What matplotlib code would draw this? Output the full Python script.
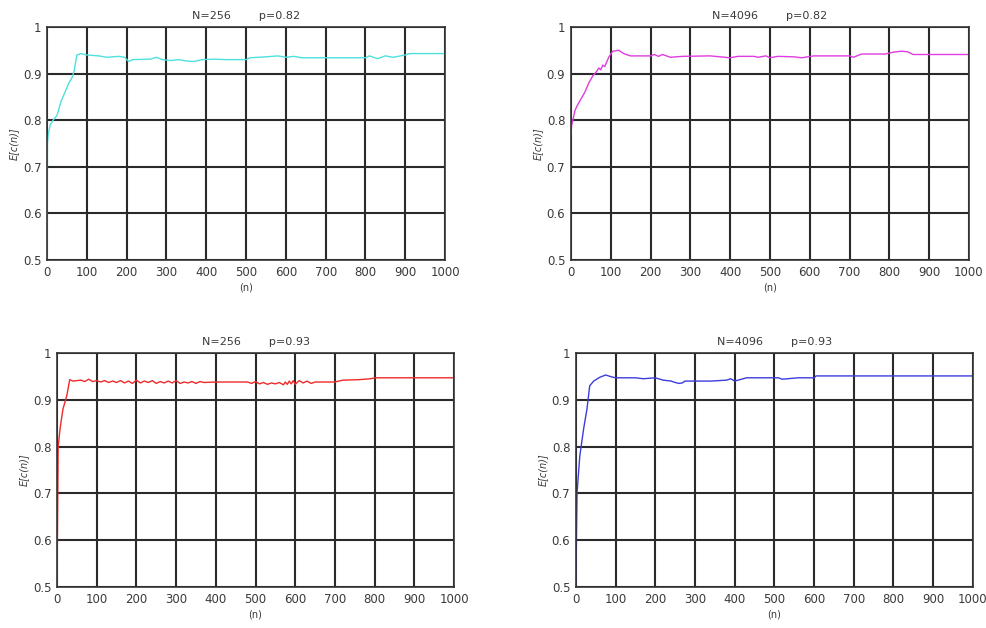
import matplotlib
matplotlib.use('Agg')
import matplotlib.pyplot as plt

# N=256, p=0.82 (cyan)
n1 = [0, 1, 3, 8, 15, 25, 35, 45, 55, 62, 68, 75, 85, 100, 130, 150, 180, 195, 205, 215, 260,
      275, 290, 310, 330, 350, 370, 390, 420, 450, 500, 510, 550, 580, 600, 620, 640, 700, 800,
      810, 830, 850, 870, 900, 910, 1000]
v1 = [0.50, 0.75, 0.77, 0.79, 0.80, 0.81, 0.84, 0.86, 0.88, 0.89, 0.905, 0.94, 0.943, 0.940,
      0.938, 0.935, 0.937, 0.935, 0.926, 0.930, 0.931, 0.935, 0.930, 0.928, 0.930, 0.927, 0.926,
      0.930, 0.931, 0.930, 0.930, 0.934, 0.936, 0.938, 0.935, 0.937, 0.934, 0.934, 0.934, 0.938,
      0.932, 0.938, 0.935, 0.940, 0.943, 0.943]

# N=4096, p=0.82 (magenta)
n2 = [0, 2, 5, 10, 15, 25, 35, 45, 55, 60, 65, 70, 75, 80, 85, 90, 95, 105, 120, 135, 150, 200,
      210, 220, 230, 250, 280, 350, 400, 420, 460, 470, 490, 500, 520, 560, 580, 610, 700, 710,
      730, 790, 810, 830, 845, 860, 1000]
v2 = [0.77, 0.79, 0.80, 0.82, 0.83, 0.845, 0.86, 0.88, 0.895, 0.90, 0.905, 0.912, 0.908, 0.918,
      0.915, 0.925, 0.935, 0.948, 0.950, 0.942, 0.938, 0.938, 0.941, 0.937, 0.941, 0.935, 0.937,
      0.938, 0.934, 0.937, 0.937, 0.935, 0.938, 0.934, 0.937, 0.936, 0.934, 0.938, 0.938, 0.935,
      0.942, 0.942, 0.946, 0.948, 0.947, 0.941, 0.941]

# N=256, p=0.93 (red)
n3 = [0, 3, 8, 15, 25, 32, 40, 50, 60, 70, 80, 90, 100, 110, 120, 130, 140, 150, 160, 170, 180,
      190, 200, 210, 220, 230, 240, 250, 260, 270, 280, 290, 300, 310, 320, 330, 340, 350, 360,
      370, 400, 450, 480, 490, 500, 510, 520, 530, 540, 550, 560, 570, 575, 580, 585, 590, 595,
      600, 610, 620, 630, 640, 650, 700, 720, 760, 790, 800, 1000]
v3 = [0.50, 0.80, 0.84, 0.88, 0.91, 0.943, 0.940, 0.941, 0.942, 0.939, 0.944, 0.939, 0.941,
      0.938, 0.941, 0.937, 0.940, 0.937, 0.941, 0.936, 0.940, 0.935, 0.942, 0.936, 0.940, 0.937,
      0.941, 0.935, 0.939, 0.936, 0.940, 0.936, 0.941, 0.935, 0.938, 0.936, 0.939, 0.935, 0.939,
      0.937, 0.938, 0.938, 0.938, 0.935, 0.939, 0.934, 0.937, 0.933, 0.936, 0.934, 0.937, 0.932,
      0.938, 0.933, 0.940, 0.934, 0.941, 0.933, 0.941, 0.936, 0.940, 0.935, 0.938, 0.938, 0.942,
      0.943, 0.945, 0.947, 0.947]

# N=4096, p=0.93 (blue)
n4 = [0, 3, 10, 20, 28, 35, 45, 60, 75, 90, 100, 150, 170, 200, 220, 240, 250, 260, 268, 275,
      340, 380, 390, 400, 430, 510, 520, 560, 600, 605, 1000]
v4 = [0.50, 0.70, 0.78, 0.84, 0.88, 0.93, 0.94, 0.948, 0.953, 0.949, 0.947, 0.947, 0.945,
      0.947, 0.942, 0.940, 0.937, 0.935, 0.936, 0.940, 0.940, 0.942, 0.945, 0.940, 0.947, 0.947,
      0.944, 0.947, 0.947, 0.951, 0.951]

titles = ['N=256        p=0.82', 'N=4096        p=0.82', 'N=256        p=0.93', 'N=4096        p=0.93']
series = [(n1, v1, '#4fe0e0'), (n2, v2, '#e03ce0'), (n3, v3, '#ee2a2a'), (n4, v4, '#3c3cdc')]

# axes boxes, in figure fractions
boxes = [[0.0477, 0.586, 0.4037, 0.371],
         [0.579, 0.586, 0.4037, 0.371],
         [0.0578, 0.0653, 0.4027, 0.3726],
         [0.584, 0.0653, 0.4027, 0.3726]]

plt.rcParams['font.family'] = ['Liberation Sans Narrow', 'DejaVu Sans']
txt = '#3a3a3a'

fig = plt.figure(figsize=(9.86, 6.28), dpi=100)
for i in range(4):
    ax = fig.add_axes(boxes[i])
    x, y, c = series[i]
    ax.plot(x, y, color=c, lw=1.0)
    ax.set_xlim(0, 1000)
    ax.set_ylim(0.5, 1.0)
    ax.set_xticks(range(0, 1001, 100))
    ax.set_yticks([0.5, 0.6, 0.7, 0.8, 0.9, 1.0])
    ax.set_yticklabels(['0.5', '0.6', '0.7', '0.8', '0.9', '1'])
    ax.grid(True, color='#2a2a2a', lw=1.5)
    ax.set_axisbelow(True)
    for s in ax.spines.values():
        s.set_color('#333333')
        s.set_linewidth(1.2)
    ax.tick_params(length=0, labelsize=8.5, colors=txt, pad=4)
    ax.set_title(titles[i], fontsize=8, color=txt, pad=6)
    ax.set_xlabel('(n)', fontsize=7, color=txt, labelpad=3)
    ax.set_ylabel('E[c(n)]', fontsize=7, color=txt, style='italic', labelpad=3)

fig.savefig('out.png', dpi=100)
